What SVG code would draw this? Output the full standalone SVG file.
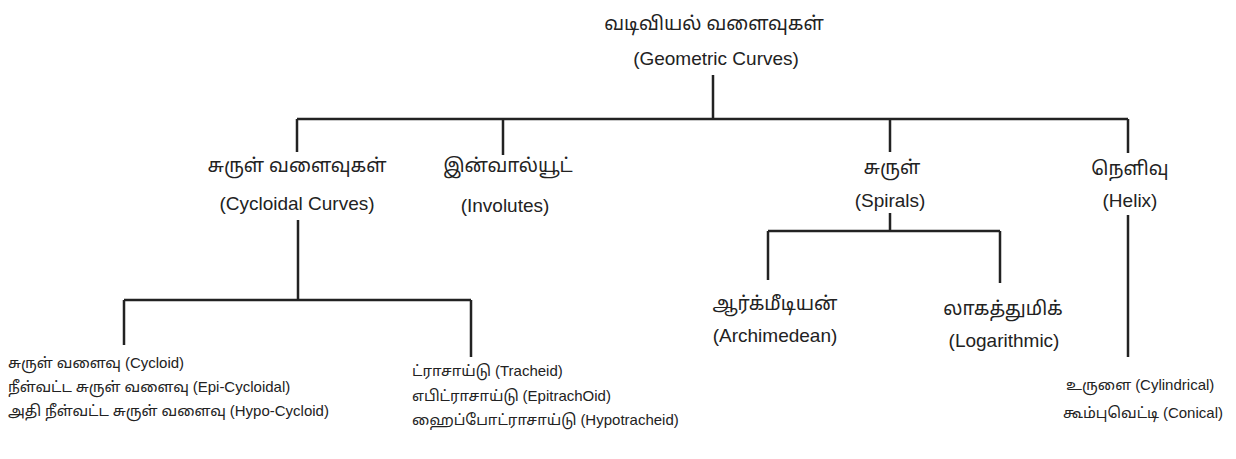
<svg xmlns="http://www.w3.org/2000/svg" width="1236" height="459" viewBox="0 0 1236 459">
<style>
text{font-family:"Noto Sans Tamil","Lohit Tamil","Latha","Noto Sans","Liberation Sans",sans-serif;fill:#222}
.c{text-anchor:middle;font-size:19px}
.l{font-size:15px}
.e{font-family:"Liberation Sans",Arial,sans-serif}
.ln{stroke:#222;stroke-width:2.5;fill:none}
</style>
<rect width="1236" height="459" fill="#fff"/>
<g id="connectors">
<path class="ln" d="M713 75V119M297 119H1128M297 119V152M503 119V155M890 119V152M1128 119V153"/>
<path class="ln" d="M298 220V300M124 300H471M124 300V345M471 300V357"/>
<path class="ln" d="M890 213V231M768 231H1000M768 231V280M1000 231V283"/>
<path class="ln" d="M1128 215V357"/>
</g>
<g id="root">
<text class="c" x="714" y="30">வடிவியல் வளைவுகள்</text>
<text class="c e" x="716" y="65">(Geometric Curves)</text>
</g>
<g id="cycloidal">
<text class="c" x="297" y="172">சுருள் வளைவுகள்</text>
<text class="c e" x="297" y="210">(Cycloidal Curves)</text>
</g>
<g id="involutes">
<text class="c" x="508" y="172">இன்வால்யூட்</text>
<text class="c e" x="505" y="212">(Involutes)</text>
</g>
<g id="spirals">
<text class="c" x="892" y="174">சுருள்</text>
<text class="c e" x="890" y="207">(Spirals)</text>
</g>
<g id="helix">
<text class="c" x="1130" y="175">நெளிவு</text>
<text class="c e" x="1130" y="207">(Helix)</text>
</g>
<g id="archimedean">
<text class="c" x="775" y="310">ஆர்க்மீடியன்</text>
<text class="c e" x="775" y="342">(Archimedean)</text>
</g>
<g id="logarithmic">
<text class="c" x="1003" y="315">லாகத்துமிக்</text>
<text class="c e" x="1004" y="347">(Logarithmic)</text>
</g>
<g id="cycloid-list">
<text class="l" x="8" y="368">சுருள் வளைவு <tspan class="e">(Cycloid)</tspan></text>
<text class="l" x="8" y="392">நீள்வட்ட சுருள் வளைவு <tspan class="e">(Epi-Cycloidal)</tspan></text>
<text class="l" x="8" y="416">அதி நீள்வட்ட சுருள் வளைவு <tspan class="e">(Hypo-Cycloid)</tspan></text>
</g>
<g id="trochoid-list">
<text class="l" x="412" y="376">ட்ராசாய்டு <tspan class="e">(Tracheid)</tspan></text>
<text class="l" x="412" y="401">எபிட்ராசாய்டு <tspan class="e">(EpitrachOid)</tspan></text>
<text class="l" x="412" y="425">ஹைப்போட்ராசாய்டு <tspan class="e">(Hypotracheid)</tspan></text>
</g>
<g id="helix-list">
<text class="l" x="1066" y="390">உருளை <tspan class="e">(Cylindrical)</tspan></text>
<text class="l" x="1063" y="418">கூம்புவெட்டி <tspan class="e">(Conical)</tspan></text>
</g>
</svg>
